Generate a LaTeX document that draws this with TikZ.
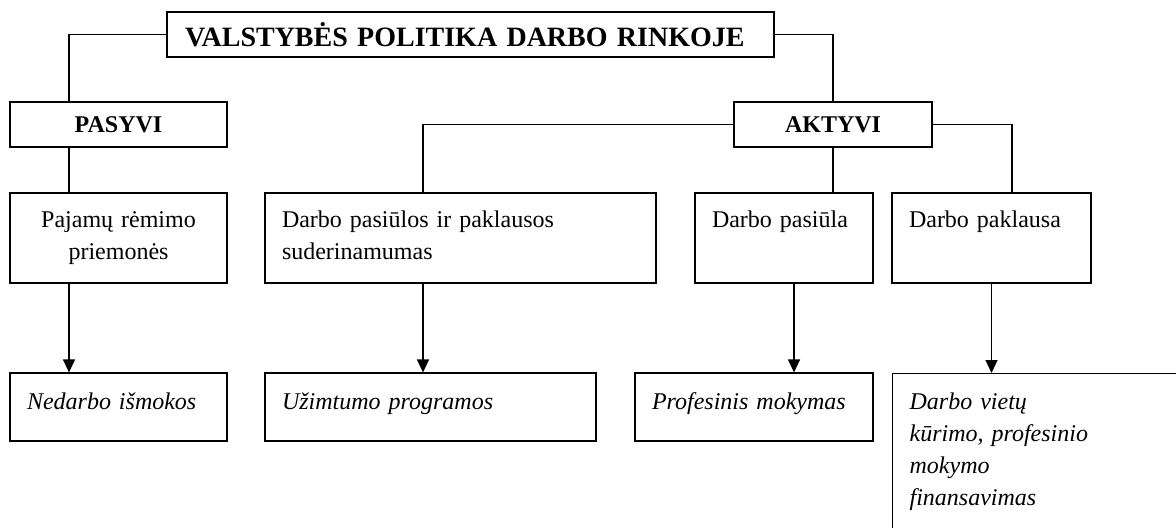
\documentclass[tikz,border=0pt]{standalone}
\usepackage{fontspec}
\setmainfont{Liberation Serif}
\usetikzlibrary{arrows.meta}

\tikzset{
  box/.style={draw, rectangle, line width=0.6pt, inner xsep=8.5pt, inner ysep=0pt, font=\fontsize{12}{16}\selectfont},
  head/.style={box, minimum height=22.5pt, font=\bfseries\fontsize{12}{14}\selectfont},
  midcell/.style={box, align=left, text height=17pt, text depth=28pt},
  lowcell/.style={box, align=left, text height=18pt, text depth=16pt, font=\itshape\fontsize{12}{16}\selectfont},
  link/.style={line width=0.6pt},
  arr/.style={line width=0.6pt, -{Triangle[width=6pt,length=6.5pt]}}
}

\begin{document}
\begin{tikzpicture}[x=0.5pt, y=-0.5pt]
    \useasboundingbox (0,0) rectangle (1176,527);
    \clip (0,0) rectangle (1176,527);
    \node[head, inner xsep=9pt, text width=285.5pt, align=left, font=\bfseries\fontsize{14}{16}\selectfont] (policy) at (470.5,34.5) {VALSTYBĖS POLITIKA DARBO RINKOJE};
    \node[head, minimum width=108.5pt] (pasyvi) at (118.5,124.5) {PASYVI};
    \node[head, minimum width=99pt] (aktyvi) at (833,124.5) {AKTYVI};
    \node[midcell, text width=91.5pt, align=center] (income) at (118.5,238) {Pajamų rėmimo\\priemonės};
    \node[midcell, text width=178.5pt] (match) at (460.5,238) {Darbo pasiūlos ir paklausos\\suderinamumas};
    \node[midcell, text width=72pt] (supply) at (784,238) {Darbo pasiūla};
    \node[midcell, text width=82.5pt] (demand) at (991.5,238) {Darbo paklausa};
    \node[lowcell, text width=91.5pt] (benefit) at (118.5,407) {Nedarbo išmokos};
    \node[lowcell, text width=148.5pt] (programs) at (430.5,407) {Užimtumo programos};
    \node[lowcell, text width=102pt] (training) at (754,407) {Profesinis mokymas};
    \node[lowcell, anchor=north west, text width=143pt, text depth=80pt] (funding) at (892,373) {Darbo vietų\\kūrimo, profesinio\\mokymo\\finansavimas};
    \coordinate (leftbus) at (69,0);
    \coordinate (matchbus) at (423,0);
    \coordinate (supplybus) at (794,0);
    \coordinate (demandbus) at (1012,0);
    \draw[link] (policy.west) -| (leftbus |- pasyvi.north);
    \draw[link] (pasyvi.south -| leftbus) -- (leftbus |- income.north);
    \draw[arr] (income.south -| leftbus) -- (leftbus |- benefit.north);
    \draw[link] (policy.east) -| (aktyvi.north);
    \draw[link] (aktyvi.west) -| (matchbus |- match.north);
    \draw[arr] (match.south -| matchbus) -- (matchbus |- programs.north);
    \draw[link] (aktyvi.south) -- (aktyvi.south |- supply.north);
    \draw[arr] (supply.south -| supplybus) -- (supplybus |- training.north);
    \draw[link] (aktyvi.east) -| (demandbus |- demand.north);
    \draw[arr] (demand.south) -- (demand.south |- funding.north);
\end{tikzpicture}
\end{document}
